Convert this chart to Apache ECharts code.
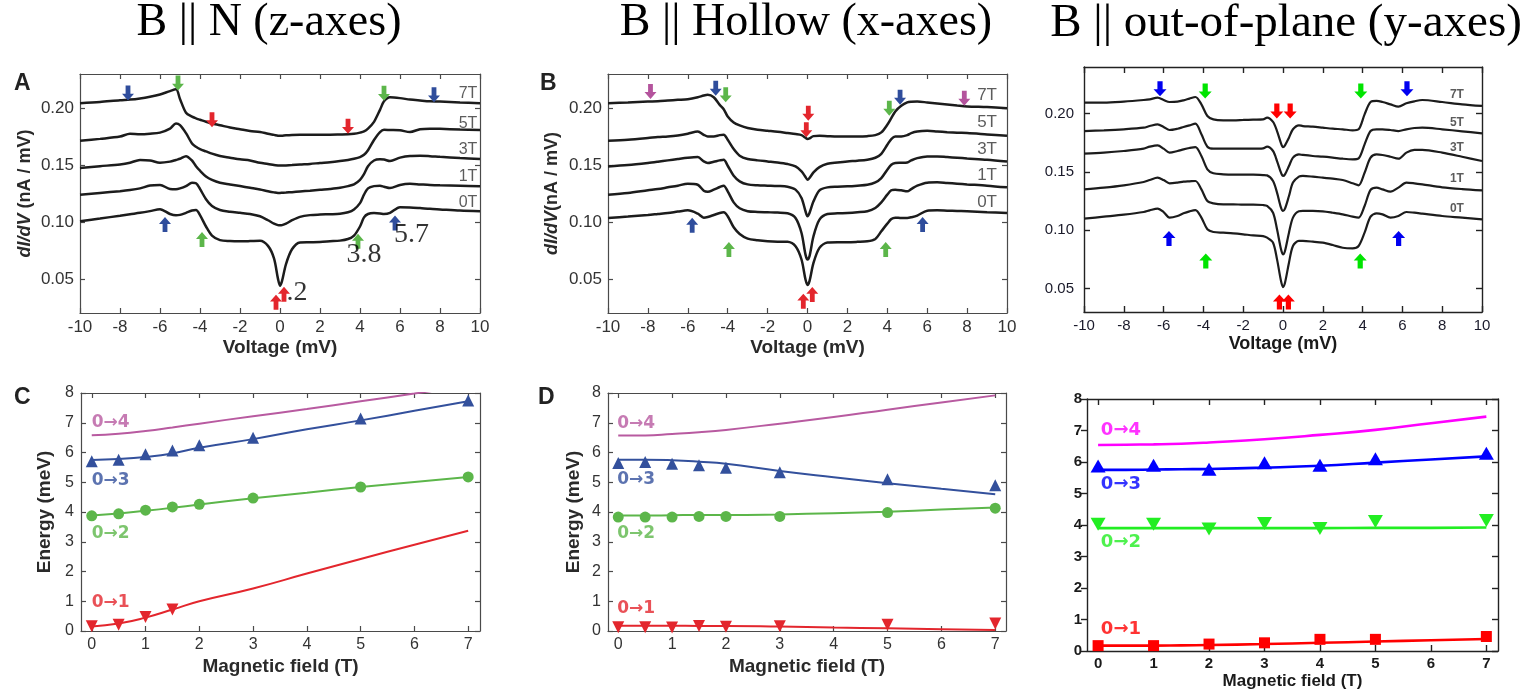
<!DOCTYPE html>
<html><head><meta charset="utf-8">
<script src="https://cdn.jsdelivr.net/npm/echarts@6/dist/echarts.min.js"></script>
<style>html,body{margin:0;padding:0;background:#fff}#c{width:1534px;height:693px}</style>
</head><body><div id="c"></div>
<script>
// ---------- DATA ----------
const voltageAB = [-10,-9,-8,-7.5,-7,-6.5,-6,-5.5,-5.2,-5,-4.7,-4.4,-4.2,-4,-3.7,-3.4,-3,-2.5,-2,-1.5,-1,-0.6,-0.3,-0.1,0,0.1,0.3,0.6,1,1.5,2,2.5,3,3.4,3.7,4,4.2,4.4,4.7,5,5.2,5.5,6,6.5,7,7.5,8,9,10];
const voltageE = [-10,-9,-8,-7,-6.7,-6.3,-6,-5.7,-5.3,-5,-4.7,-4.4,-4.1,-3.8,-3.5,-3,-2.5,-2,-1.5,-1,-0.8,-0.5,-0.3,-0.1,0,0.1,0.3,0.5,0.8,1,1.5,2,2.5,3,3.5,3.8,4.1,4.4,4.7,5,5.4,5.8,6.2,6.6,7,8,9,10];
const fieldLabels = ['7T','5T','3T','1T','0T'];
const transitionLabels = ['0\u21921','0\u21922','0\u21923','0\u21924'];
const voltageTicks = [-10,-8,-6,-4,-2,0,2,4,6,8,10];
const conductanceTicks = [0.05,0.10,0.15,0.20];
const fieldTicks = [0,1,2,3,4,5,6,7];
const energyTicks = [0,1,2,3,4,5,6,7,8];

// Panel A: B || N
const A_7T = [0.2044,0.2055,0.2070,0.2075,0.2085,0.2100,0.2120,0.2150,0.2165,0.2080,0.1960,0.1925,0.1910,0.1898,0.1880,0.1865,0.1850,0.1830,0.1815,0.1800,0.1790,0.1775,0.1765,0.1758,0.1757,0.1758,0.1762,0.1765,0.1766,0.1766,0.1766,0.1766,0.1768,0.1770,0.1775,0.1785,0.1795,0.1820,0.1880,0.1985,0.2060,0.2095,0.2088,0.2075,0.2067,0.2060,0.2058,0.2050,0.2044];
const A_5T = [0.1713,0.1730,0.1750,0.1775,0.1770,0.1775,0.1785,0.1820,0.1865,0.1850,0.1780,0.1690,0.1660,0.1640,0.1620,0.1600,0.1580,0.1565,0.1550,0.1540,0.1520,0.1510,0.1500,0.1496,0.1495,0.1495,0.1497,0.1500,0.1505,0.1510,0.1518,0.1525,0.1535,0.1545,0.1555,0.1570,0.1590,0.1630,0.1720,0.1790,0.1810,0.1808,0.1805,0.1790,0.1815,0.1820,0.1818,0.1812,0.1808];
const A_3T = [0.1474,0.1490,0.1505,0.1520,0.1545,0.1540,0.1520,0.1530,0.1545,0.1555,0.1578,0.1540,0.1490,0.1450,0.1400,0.1370,0.1345,0.1330,0.1315,0.1300,0.1285,0.1270,0.1260,0.1255,0.1255,0.1256,0.1258,0.1262,0.1268,0.1275,0.1283,0.1290,0.1300,0.1315,0.1330,0.1370,0.1420,0.1490,0.1540,0.1550,0.1548,0.1535,0.1565,0.1580,0.1582,0.1578,0.1572,0.1562,0.1553];
const A_1T = [0.1240,0.1255,0.1270,0.1280,0.1295,0.1320,0.1325,0.1290,0.1288,0.1295,0.1315,0.1345,0.1340,0.1290,0.1200,0.1140,0.1105,0.1090,0.1080,0.1070,0.1050,0.1015,0.0985,0.0972,0.0970,0.0972,0.0985,0.1015,0.1045,0.1060,0.1065,0.1068,0.1072,0.1085,0.1110,0.1165,0.1240,0.1295,0.1315,0.1318,0.1310,0.1298,0.1325,0.1335,0.1330,0.1325,0.1322,0.1318,0.1313];
const A_0T = [0.1006,0.1030,0.1055,0.1068,0.1080,0.1095,0.1112,0.1070,0.1058,0.1062,0.1080,0.1100,0.1105,0.1060,0.0960,0.0880,0.0840,0.0832,0.0830,0.0832,0.0835,0.0790,0.0680,0.0500,0.0440,0.0480,0.0630,0.0760,0.0820,0.0822,0.0824,0.0830,0.0836,0.0850,0.0880,0.0960,0.1040,0.1070,0.1078,0.1075,0.1070,0.1080,0.1130,0.1128,0.1122,0.1115,0.1110,0.1100,0.1094];

// Panel B: B || Hollow
const B_7T = [0.2044,0.2050,0.2058,0.2061,0.2067,0.2073,0.2079,0.2096,0.2111,0.2117,0.2096,0.2029,0.1991,0.1927,0.1874,0.1848,0.1825,0.1810,0.1801,0.1792,0.1781,0.1772,0.1763,0.1740,0.1728,0.1734,0.1754,0.1757,0.1754,0.1751,0.1751,0.1751,0.1754,0.1763,0.1787,0.1854,0.1912,0.1971,0.2020,0.2050,0.2056,0.2058,0.2050,0.2041,0.2032,0.2023,0.2015,0.2009,0.2000];
const B_5T = [0.1713,0.1722,0.1737,0.1746,0.1751,0.1760,0.1775,0.1795,0.1766,0.1751,0.1751,0.1763,0.1766,0.1722,0.1640,0.1582,0.1553,0.1541,0.1532,0.1523,0.1509,0.1488,0.1444,0.1395,0.1371,0.1386,0.1436,0.1482,0.1512,0.1523,0.1532,0.1538,0.1547,0.1564,0.1599,0.1678,0.1728,0.1751,0.1751,0.1763,0.1781,0.1795,0.1801,0.1795,0.1789,0.1784,0.1781,0.1769,0.1757];
const B_3T = [0.1488,0.1500,0.1518,0.1529,0.1541,0.1553,0.1564,0.1570,0.1532,0.1518,0.1529,0.1541,0.1547,0.1494,0.1406,0.1357,0.1330,0.1322,0.1319,0.1316,0.1310,0.1284,0.1211,0.1094,0.1050,0.1079,0.1181,0.1278,0.1304,0.1310,0.1313,0.1319,0.1327,0.1348,0.1386,0.1459,0.1503,0.1518,0.1520,0.1523,0.1541,0.1561,0.1576,0.1576,0.1570,0.1564,0.1558,0.1547,0.1532];
const B_1T = [0.1240,0.1254,0.1278,0.1289,0.1304,0.1319,0.1336,0.1327,0.1275,0.1266,0.1284,0.1307,0.1319,0.1269,0.1172,0.1120,0.1094,0.1088,0.1085,0.1082,0.1076,0.1035,0.0903,0.0713,0.0670,0.0699,0.0874,0.1020,0.1070,0.1076,0.1079,0.1085,0.1094,0.1123,0.1172,0.1240,0.1278,0.1284,0.1278,0.1269,0.1289,0.1319,0.1345,0.1348,0.1342,0.1336,0.1330,0.1319,0.1304];
const B_0T = [0.1035,0.1047,0.1061,0.1070,0.1079,0.1091,0.1102,0.1073,0.1038,0.1044,0.1061,0.1079,0.1085,0.1050,0.0953,0.0895,0.0854,0.0839,0.0830,0.0827,0.0827,0.0787,0.0670,0.0494,0.0447,0.0480,0.0640,0.0772,0.0819,0.0822,0.0822,0.0825,0.0830,0.0851,0.0918,0.0985,0.1026,0.1038,0.1035,0.1035,0.1041,0.1056,0.1099,0.1102,0.1099,0.1096,0.1094,0.1085,0.1079];

// Panel E: B || out-of-plane
const E_7T = [0.2094,0.2094,0.2103,0.2117,0.2123,0.2137,0.2117,0.2100,0.2103,0.2114,0.2129,0.2143,0.2080,0.1980,0.1951,0.1943,0.1943,0.1946,0.1949,0.1951,0.1966,0.1929,0.1851,0.1746,0.1714,0.1729,0.1794,0.1866,0.1900,0.1894,0.1889,0.1880,0.1871,0.1866,0.1857,0.1866,0.1994,0.2100,0.2109,0.2100,0.2080,0.2060,0.2089,0.2106,0.2117,0.2100,0.2080,0.2066];
const E_5T = [0.1851,0.1857,0.1866,0.1880,0.1894,0.1909,0.1886,0.1860,0.1871,0.1886,0.1900,0.1914,0.1823,0.1717,0.1700,0.1700,0.1700,0.1700,0.1700,0.1703,0.1717,0.1680,0.1594,0.1494,0.1466,0.1480,0.1551,0.1623,0.1651,0.1646,0.1637,0.1631,0.1623,0.1614,0.1609,0.1617,0.1737,0.1851,0.1866,0.1866,0.1860,0.1851,0.1866,0.1877,0.1880,0.1866,0.1849,0.1831];
const E_3T = [0.1657,0.1666,0.1680,0.1700,0.1717,0.1729,0.1700,0.1666,0.1680,0.1694,0.1706,0.1714,0.1637,0.1523,0.1489,0.1480,0.1477,0.1477,0.1477,0.1474,0.1471,0.1423,0.1323,0.1194,0.1166,0.1186,0.1294,0.1409,0.1460,0.1466,0.1460,0.1451,0.1443,0.1431,0.1403,0.1386,0.1494,0.1623,0.1651,0.1646,0.1631,0.1614,0.1666,0.1689,0.1689,0.1666,0.1631,0.1594];
const E_1T = [0.1351,0.1366,0.1386,0.1414,0.1431,0.1451,0.1431,0.1403,0.1409,0.1417,0.1420,0.1423,0.1351,0.1251,0.1231,0.1223,0.1223,0.1220,0.1220,0.1217,0.1209,0.1151,0.1009,0.0837,0.0794,0.0823,0.0980,0.1109,0.1163,0.1166,0.1166,0.1163,0.1151,0.1137,0.1117,0.1109,0.1209,0.1346,0.1366,0.1351,0.1331,0.1366,0.1409,0.1403,0.1394,0.1369,0.1354,0.1343];
const E_0T = [0.1100,0.1117,0.1134,0.1157,0.1171,0.1186,0.1157,0.1109,0.1123,0.1146,0.1163,0.1174,0.1109,0.1009,0.0986,0.0980,0.0974,0.0966,0.0957,0.0951,0.0937,0.0894,0.0751,0.0566,0.0514,0.0551,0.0723,0.0866,0.0909,0.0909,0.0903,0.0894,0.0874,0.0851,0.0846,0.0866,0.0980,0.1117,0.1146,0.1137,0.1109,0.1123,0.1157,0.1151,0.1143,0.1123,0.1109,0.1094];

// arrows: [voltage, dI/dV, transition (1..4), direction]
const arrowsA = [[-7.6,0.2132,3,'down'],[-5.1,0.2220,2,'down'],[-3.4,0.1898,1,'down'],[3.4,0.1840,1,'down'],[5.2,0.2130,2,'down'],[7.7,0.2117,3,'down'],[-5.75,0.0977,3,'up'],[-3.9,0.0845,2,'up'],[3.9,0.0830,2,'up'],[5.75,0.0991,3,'up'],[-0.2,0.0295,1,'up'],[0.2,0.0365,1,'up']];
const arrowsB = [[-7.87,0.2146,4,'down'],[-4.6,0.2175,3,'down'],[-4.1,0.2117,2,'down'],[0.04,0.1956,1,'down'],[-0.06,0.1810,1,'down'],[4.1,0.2000,2,'down'],[4.64,0.2096,3,'down'],[7.86,0.2088,4,'down'],[-5.78,0.0971,3,'up'],[-3.94,0.0757,2,'up'],[3.92,0.0757,2,'up'],[5.77,0.0977,3,'up'],[-0.21,0.0304,1,'up'],[0.24,0.0363,1,'up']];
const arrowsE = [[-6.18,0.2214,3,'down'],[-3.91,0.2194,2,'down'],[-0.31,0.2023,1,'down'],[0.36,0.2023,1,'down'],[3.91,0.2194,2,'down'],[6.23,0.2214,3,'down'],[-5.73,0.0929,3,'up'],[-3.88,0.0737,2,'up'],[3.88,0.0737,2,'up'],[5.81,0.0929,3,'up'],[-0.18,0.0386,1,'up'],[0.27,0.0386,1,'up']];
const peakEnergyNotes = [['3.8',4.2,0.0713],['5.7',6.58,0.0889],['.2',0.85,0.0380]];

// Panel C (B || N): measured transitions and fits
const fieldC = [0,0.5,1,1.5,2,3,5,7];
const fieldC01 = [0,0.5,1,1.5];
const C_03 = [5.71,5.76,5.94,6.07,6.24,6.50,7.14,7.75];
const C_02 = [3.87,3.94,4.06,4.17,4.26,4.47,4.84,5.18];
const C_01 = [0.16,0.21,0.47,0.72];
const fitField = [0,0.5,1,1.5,2,3,4,5,6,7];
const C_fit04 = [6.58,6.63,6.72,6.84,6.97,7.22,7.46,7.72,7.98,8.25];
const C_fit03 = [5.75,5.78,5.85,5.97,6.16,6.45,6.78,7.08,7.40,7.72];
const C_fit02 = [3.88,3.95,4.04,4.14,4.25,4.46,4.65,4.84,5.01,5.18];
const C_fit01 = [0.15,0.25,0.45,0.72,1.00,1.43,1.93,2.42,2.90,3.37];

// Panel D (B || Hollow)
const fieldD = [0,0.5,1,1.5,2,3,5,7];
const D_03 = [5.65,5.68,5.62,5.57,5.49,5.34,5.10,4.90];
const D_02 = [3.83,3.83,3.83,3.85,3.85,3.85,3.98,4.13];
const D_01 = [0.13,0.13,0.12,0.17,0.14,0.16,0.21,0.25];
const D_fit04 = [6.57,6.57,6.62,6.68,6.76,6.97,7.19,7.44,7.68,7.92];
const D_fit03 = [5.76,5.76,5.74,5.69,5.62,5.38,5.17,4.97,4.78,4.60];
const D_fit02 = [3.88,3.88,3.89,3.90,3.90,3.92,3.96,4.01,4.08,4.15];
const D_fit01 = [0.18,0.18,0.18,0.17,0.17,0.15,0.12,0.09,0.06,0.03];

// Panel F (B || out-of-plane)
const fieldF = [0,1,2,3,4,5,7];
const F_03 = [5.87,5.90,5.77,5.98,5.90,6.10,6.28];
const F_02 = [4.02,4.02,3.87,4.05,3.89,4.11,4.14];
const F_01 = [0.17,0.17,0.22,0.26,0.37,0.37,0.46];
const F_fit04 = [6.54,6.55,6.56,6.58,6.62,6.72,6.86,7.02,7.23,7.44];
const F_fit03 = [5.75,5.75,5.76,5.77,5.78,5.82,5.88,5.98,6.08,6.18];
const F_fit02 = [3.90,3.90,3.90,3.90,3.90,3.90,3.90,3.91,3.91,3.92];
const F_fit01 = [0.17,0.17,0.17,0.18,0.19,0.22,0.26,0.30,0.34,0.38];

// ---------- BUILD ----------
const SANS = '"Liberation Sans", Arial, Helvetica, sans-serif';
const DEJAVU = '"DejaVu Sans", "Liberation Sans", sans-serif';
const SERIF = '"Liberation Serif", "Times New Roman", serif';
const grids = [
  {left:80, top:74, width:400, height:239},
  {left:608, top:74, width:399, height:239},
  {left:1084, top:67, width:398, height:245},
  {left:81, top:393, width:399, height:238},
  {left:608, top:393, width:398, height:238},
  {left:1087, top:399, width:411, height:252}
];
const xAxes = [], yAxes = [], series = [];

function addAxes(g, c){
  const xi = xAxes.length, yi = yAxes.length;
  const ls = {color:c.axisColor, width:c.axisWidth};
  const lab = {fontFamily:SANS, fontSize:c.labelSize, color:c.labelColor, fontWeight:c.labelWeight};
  const nameStyle = {fontFamily:SANS, fontSize:c.nameSize, fontWeight:'bold', color:c.nameColor};
  xAxes.push({type:'value', gridIndex:g, position:'bottom', min:c.xMin, max:c.xMax,
    name:c.xName, nameLocation:'middle', nameGap:c.xNameGap, nameTextStyle:nameStyle,
    axisLine:{show:true,onZero:false,lineStyle:ls},
    axisTick:{show:true,inside:true,length:c.tickLen,lineStyle:ls,customValues:c.xTicks},
    axisLabel:Object.assign({show:true,customValues:c.xTicks,margin:c.xMargin,formatter:v=>String(v)},lab),
    splitLine:{show:false}});
  xAxes.push({type:'value', gridIndex:g, position:'top', min:c.xMin, max:c.xMax,
    axisLine:{show:true,onZero:false,lineStyle:ls},
    axisTick:{show:true,inside:true,length:c.tickLen,lineStyle:ls,customValues:c.xTicks},
    axisLabel:{show:false}, splitLine:{show:false}});
  const yName = c.yName ? {name:c.yName, nameLocation:'middle', nameGap:c.yNameGap, nameRotate:90,
    nameTextStyle:Object.assign({}, nameStyle, c.yRich ? {rich:c.yRich} : {})} : {};
  yAxes.push(Object.assign({type:'value', gridIndex:g, position:'left', min:c.yMin, max:c.yMax,
    axisLine:{show:true,onZero:false,lineStyle:ls},
    axisTick:{show:true,inside:!c.yTickOut,length:c.tickLen,lineStyle:ls,customValues:c.yTicks},
    axisLabel:Object.assign({show:true,customValues:c.yTicks,margin:c.yMargin,formatter:c.yFmt},lab),
    splitLine:{show:false}}, yName));
  yAxes.push({type:'value', gridIndex:g, position:'right', min:c.yMin, max:c.yMax,
    axisLine:{show:true,onZero:false,lineStyle:ls},
    axisTick:{show:true,inside:true,length:c.tickLen,lineStyle:ls,customValues:c.yTicks},
    axisLabel:{show:false}, splitLine:{show:false}});
  return [xi, yi];
}

const ARROW = 'path://M3,0L7,0L7,7L10,7L5,13L0,7L3,7Z';
const paletteAB = {1:'#e3262d', 2:'#5cb64a', 3:'#2f4d9c', 4:'#b4549d'};
const paletteE  = {1:'#ff0000', 2:'#00e400', 3:'#0000f0', 4:'#ff00ff'};
const paletteCD = {1:'#e3262d', 2:'#5cb64a', 3:'#33509c', 4:'#b85aa0'};
const paletteF  = {1:'#ff0000', 2:'#22ee22', 3:'#0000ff', 4:'#ff00ff'};

function curve(ax, xs, ys, w){
  return {type:'line', xAxisIndex:ax[0], yAxisIndex:ax[1], data:xs.map((x,i)=>[x,ys[i]]),
    showSymbol:false, symbol:'none', smooth:0.3, lineStyle:{color:'#1c1c1c', width:w}, z:3, silent:true};
}
function arrows(ax, list, pal, size){
  return {type:'scatter', xAxisIndex:ax[0], yAxisIndex:ax[1], symbol:ARROW, symbolSize:size, z:6, silent:true,
    data:list.map(a=>({value:[a[0],a[1]], symbolRotate:a[3]==='up'?180:0, itemStyle:{color:pal[a[2]], opacity:1}}))};
}
function texts(ax, items, style, align){
  return {type:'scatter', xAxisIndex:ax[0], yAxisIndex:ax[1], symbol:'circle', symbolSize:1, z:7, silent:true,
    itemStyle:{color:'rgba(0,0,0,0)'},
    data:items.map(t=>({value:[t[1],t[2]], name:t[0],
      label:Object.assign({show:true, position:'inside', formatter:'{b}', align:align||'center', verticalAlign:'middle'}, t[3]?{color:t[3]}:{})})),
    label:Object.assign({show:true}, style)};
}
function fit(ax, ys, color, w){
  return {type:'line', xAxisIndex:ax[0], yAxisIndex:ax[1], data:fitField.map((x,i)=>[x,ys[i]]),
    showSymbol:false, symbol:'none', smooth:true, lineStyle:{color:color, width:w}, z:3, silent:true};
}
function marks(ax, xs, ys, color, symbol, size, rot){
  return {type:'scatter', xAxisIndex:ax[0], yAxisIndex:ax[1], data:xs.map((x,i)=>[x,ys[i]]),
    symbol:symbol, symbolSize:size, symbolRotate:rot||0, itemStyle:{color:color, opacity:1}, z:5, silent:true};
}

const fmt2 = v => v.toFixed(2);
const specAB = {axisColor:'#4a4a4a', axisWidth:1.2, labelSize:17, labelColor:'#333', labelWeight:'normal',
  nameSize:19, nameColor:'#2a2a2a', tickLen:5, xMin:-10, xMax:10, xTicks:voltageTicks, xMargin:6,
  xName:'Voltage (mV)', xNameGap:25, yMin:0.02, yMax:0.23, yTicks:conductanceTicks, yMargin:6, yFmt:fmt2,
  yName:'{i|dI/dV}{n| (nA / mV)}', yNameGap:46,
  yRich:{i:{fontFamily:SANS,fontSize:18,fontWeight:'bold',fontStyle:'italic',color:'#2a2a2a'},
         n:{fontFamily:SANS,fontSize:18,fontWeight:'bold',color:'#2a2a2a'}}};

const axA = addAxes(0, specAB);
const axB = addAxes(1, Object.assign({}, specAB, {yName:'{i|dI/dV}{n|(nA / mV)}', yNameGap:47}));
const axE = addAxes(2, {axisColor:'#222', axisWidth:1.4, labelSize:15, labelColor:'#1a1a2a', labelWeight:'normal',
  nameSize:18, nameColor:'#1a1a1a', tickLen:6, xMin:-10, xMax:10, xTicks:voltageTicks, xMargin:6,
  xName:'Voltage (mV)', xNameGap:23, yMin:0.03, yMax:0.24, yTicks:conductanceTicks, yMargin:10, yFmt:fmt2});
const specCD = {axisColor:'#4a4a4a', axisWidth:1.2, labelSize:16, labelColor:'#333', labelWeight:'normal',
  nameSize:19, nameColor:'#2a2a2a', tickLen:5, xMin:-0.2, xMax:7.22, xTicks:fieldTicks, xMargin:6,
  xName:'Magnetic field (T)', xNameGap:26, yMin:0, yMax:8, yTicks:energyTicks, yMargin:7, yFmt:v=>String(v),
  yName:'Energy (meV)', yNameGap:27};
const axC = addAxes(3, specCD);
const axD = addAxes(4, Object.assign({}, specCD, {xMin:-0.19, xMax:7.2, yNameGap:25}));
const axF = addAxes(5, {axisColor:'#222', axisWidth:1.4, labelSize:15, labelColor:'#1a1a1a', labelWeight:'bold',
  nameSize:17, nameColor:'#1a1a1a', tickLen:6, xMin:-0.2, xMax:7.21, xTicks:fieldTicks, xMargin:5,
  xName:'Magnetic field (T)', xNameGap:22, yMin:0, yMax:8, yTicks:energyTicks, yMargin:5, yTickOut:true, yFmt:v=>String(v)});

// spectra
[A_7T,A_5T,A_3T,A_1T,A_0T].forEach(ys=>series.push(curve(axA, voltageAB, ys, 2.5)));
[B_7T,B_5T,B_3T,B_1T,B_0T].forEach(ys=>series.push(curve(axB, voltageAB, ys, 2.5)));
[E_7T,E_5T,E_3T,E_1T,E_0T].forEach(ys=>series.push(curve(axE, voltageE, ys, 2.2)));

series.push(arrows(axA, arrowsA, paletteAB, [12,15]));
series.push(arrows(axB, arrowsB, paletteAB, [12,15]));
series.push(arrows(axE, arrowsE, paletteE, [13,15]));

const labA = [0.2132,0.1868,0.1634,0.1401,0.1167];
const labB = [0.2117,0.1874,0.1640,0.1406,0.1173];
const labE = [0.2160,0.1923,0.1709,0.1443,0.1186];
series.push(texts(axA, fieldLabels.map((t,i)=>[t,9.4,labA[i]]), {fontFamily:SANS, fontSize:16, color:'#333'}));
series.push(texts(axB, fieldLabels.map((t,i)=>[t,9.0,labB[i]]), {fontFamily:SANS, fontSize:17, color:'#333'}));
series.push(texts(axE, fieldLabels.map((t,i)=>[t,8.74,labE[i]]), {fontFamily:SANS, fontSize:12, fontWeight:'bold', color:'#333'}));
series.push(texts(axA, peakEnergyNotes, {fontFamily:SERIF, fontSize:28, color:'#000'}));

// energy panels
function energyPanel(ax, pal, fits, pts, symbols, lab, lw, labSize){
  fits.forEach((ys,k)=>series.push(fit(ax, ys, pal[4-k], lw)));
  pts.forEach((p,k)=>series.push(marks(ax, p[0], p[1], pal[3-k], symbols[k][0], symbols[k][1], symbols[k][2])));
  series.push(texts(ax, transitionLabels.map((t,i)=>[t, lab[0], lab[1][i], pal[i+1]]),
    {fontFamily:DEJAVU, fontSize:labSize, fontWeight:'bold'}, 'left'));
}
energyPanel(axC, paletteCD, [C_fit04,C_fit03,C_fit02,C_fit01],
  [[fieldC,C_03],[fieldC,C_02],[fieldC01,C_01]],
  [['triangle',12,0],['circle',11,0],['triangle',12,180]],
  [0.0,[0.97,3.27,5.04,7.0]], 2, 17);
energyPanel(axD, paletteCD, [D_fit04,D_fit03,D_fit02,D_fit01],
  [[fieldD,D_03],[fieldD,D_02],[fieldD,D_01]],
  [['triangle',12,0],['circle',11,0],['triangle',12,180]],
  [-0.02,[0.75,3.27,5.09,6.97]], 2, 17);
energyPanel(axF, paletteF, [F_fit04,F_fit03,F_fit02,F_fit01],
  [[fieldF,F_03],[fieldF,F_02],[fieldF,F_01]],
  [['triangle',[15,13],0],['triangle',[15,13],180],['rect',11,0]],
  [0.05,[0.69,3.44,5.29,6.99]], 2.6, 18);

const headFont = '46px ' + SERIF;
const letterFont = 'bold 23px ' + SANS;
const graphic = [
  {type:'text', x:269, y:0, style:{text:'B || N (z-axes)', font:headFont, fill:'#000', align:'center', verticalAlign:'top'}},
  {type:'text', x:806, y:0, style:{text:'B || Hollow (x-axes)', font:headFont, fill:'#000', align:'center', verticalAlign:'top'}},
  {type:'text', x:1286, y:0, style:{text:'B || out-of-plane (y-axes)', font:'47px ' + SERIF, fill:'#000', align:'center', verticalAlign:'top'}},
  {type:'text', x:14, y:72, style:{text:'A', font:letterFont, fill:'#222'}},
  {type:'text', x:540, y:72, style:{text:'B', font:letterFont, fill:'#222'}},
  {type:'text', x:14, y:386, style:{text:'C', font:letterFont, fill:'#222'}},
  {type:'text', x:538, y:386, style:{text:'D', font:letterFont, fill:'#222'}}
];

const chart = echarts.init(document.getElementById('c'));
chart.setOption({
  animation:false, backgroundColor:'#fff',
  grid:grids, xAxis:xAxes, yAxis:yAxes, series:series, graphic:graphic
});
</script></body></html>
